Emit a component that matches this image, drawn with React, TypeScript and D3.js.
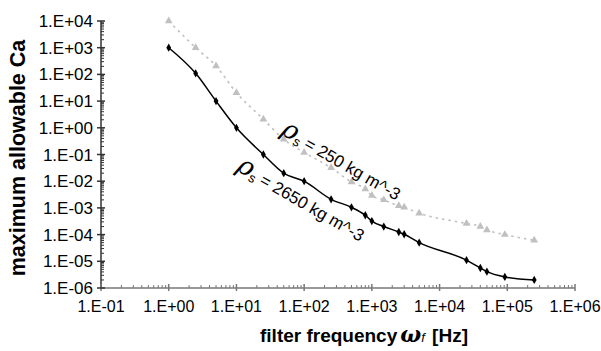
import React, { useRef, useEffect } from 'react';
import * as d3 from 'd3';

// filter frequency [Hz], shared by both series
const freqs = [1, 2.5, 5, 10, 25, 50, 100, 250, 500, 800, 1000, 1500, 2500, 3000, 5000, 25000, 40000, 50000, 92000, 250000];

// rho_s = 2650 kg m^-3
const caHeavy = [1e3, 110, 10, 1, 0.1, 0.02, 0.01, 0.0021, 0.00105, 5.3e-4, 3.2e-4, 2.0e-4, 1.25e-4, 1.03e-4, 5e-5, 1.1e-5, 5.6e-6, 4.1e-6, 2.6e-6, 2.0e-6];

// rho_s = 250 kg m^-3
const caLight = [1e4, 1000, 207, 20.6, 2.1, 0.37, 0.119, 0.032, 0.0093, 0.0051, 0.0029, 0.002, 0.0012, 0.00105, 6.3e-4, 2.6e-4, 2.0e-4, 1.5e-4, 1.0e-4, 6.1e-5];

const xTicks = [1e-1, 1e0, 1e1, 1e2, 1e3, 1e4, 1e5, 1e6];
const yTicks = [1e-6, 1e-5, 1e-4, 1e-3, 1e-2, 1e-1, 1e0, 1e1, 1e2, 1e3, 1e4];

const labels = [
  { density: '250', x: 44, y: 0.6 },
  { density: '2650', x: 9.7, y: 0.026 },
];

const fmtExp = (v: number) => {
  const e = Math.round(Math.log10(v));
  const s = Math.abs(e) < 10 ? '0' + Math.abs(e) : '' + Math.abs(e);
  return '1.E' + (e < 0 ? '-' : '+') + s;
};

const FONT = 'Liberation Sans, Arial, sans-serif';

export default function App() {
  const svgRef = useRef<SVGSVGElement | null>(null);

  useEffect(() => {
    if (!svgRef.current) return;
    const svg = d3.select(svgRef.current);
    svg.selectAll('*').remove();

    const x = d3.scaleLog().domain([1e-1, 1e6]).range([101, 575]);
    const y = d3.scaleLog().domain([1e-6, 1e4]).range([288, 21]);
    const axisColor = '#777';

    // minor ticks
    const g = svg.append('g');
    for (let e = -1; e < 6; e++) {
      for (let m = 2; m < 10; m++) {
        const xv = x(m * Math.pow(10, e));
        g.append('line').attr('x1', xv).attr('x2', xv).attr('y1', 288).attr('y2', 285)
          .attr('stroke', axisColor).attr('stroke-width', 1);
      }
    }
    for (let e = -6; e < 4; e++) {
      for (let m = 2; m < 10; m++) {
        const yv = y(m * Math.pow(10, e));
        g.append('line').attr('x1', 101).attr('x2', 104).attr('y1', yv).attr('y2', yv)
          .attr('stroke', '#333').attr('stroke-width', 1);
      }
    }

    // axes lines
    g.append('line').attr('x1', 101).attr('x2', 575).attr('y1', 288).attr('y2', 288)
      .attr('stroke', axisColor).attr('stroke-width', 1.5);
    g.append('line').attr('x1', 101).attr('x2', 101).attr('y1', 21).attr('y2', 288)
      .attr('stroke', '#333').attr('stroke-width', 1.5);

    // major ticks + labels
    xTicks.forEach(t => {
      g.append('line').attr('x1', x(t)).attr('x2', x(t)).attr('y1', 284).attr('y2', 291)
        .attr('stroke', axisColor).attr('stroke-width', 1.5);
      g.append('text').attr('x', x(t)).attr('y', 312).attr('text-anchor', 'middle')
        .attr('font-family', FONT).attr('font-size', 16).attr('fill', '#000').text(fmtExp(t));
    });
    yTicks.forEach(t => {
      g.append('line').attr('x1', 97).attr('x2', 105).attr('y1', y(t)).attr('y2', y(t))
        .attr('stroke', '#333').attr('stroke-width', 1.5);
      g.append('text').attr('x', 93).attr('y', y(t) + 6).attr('text-anchor', 'end')
        .attr('font-family', FONT).attr('font-size', 17).attr('fill', '#000').text(fmtExp(t));
    });

    // axis titles
    svg.append('text')
      .attr('transform', 'translate(25,158) rotate(-90)')
      .attr('text-anchor', 'middle')
      .attr('font-family', FONT).attr('font-size', 21.5).attr('font-weight', 'bold')
      .text('maximum allowable Ca');

    const xt = svg.append('text').attr('x', 260).attr('y', 342)
      .attr('font-family', FONT).attr('font-size', 19).attr('font-weight', 'bold');
    xt.append('tspan').text('filter frequency');
    xt.append('tspan').attr('dx', 3).attr('font-family', 'DejaVu Serif, serif').attr('font-style', 'italic').attr('font-size', 22).text('ω');
    xt.append('tspan').attr('font-style', 'italic').attr('font-size', 13).attr('font-weight', 'normal').text('f');
    xt.append('tspan').attr('dx', 2).text(' [Hz]');

    const pts = (vals: number[]) => freqs.map((f, i) => [x(f), y(vals[i])] as [number, number]);
    const line = d3.line().curve(d3.curveMonotoneX);

    // light series
    svg.append('path').attr('d', line(pts(caLight)))
      .attr('fill', 'none').attr('stroke', '#c0c0c0').attr('stroke-width', 1.6)
      .attr('stroke-dasharray', '2.5,4');
    const tri = d3.symbol().type(d3.symbolTriangle).size(26);
    svg.append('g').selectAll('path').data(pts(caLight)).join('path')
      .attr('transform', d => `translate(${d[0]},${d[1]})`)
      .attr('d', tri()).attr('fill', '#c0c0c0');

    // heavy series
    svg.append('path').attr('d', line(pts(caHeavy)))
      .attr('fill', 'none').attr('stroke', '#000').attr('stroke-width', 1.5);
    const dia = d3.symbol().type(d3.symbolDiamond).size(20);
    svg.append('g').selectAll('path').data(pts(caHeavy)).join('path')
      .attr('transform', d => `translate(${d[0]},${d[1]})`)
      .attr('d', dia()).attr('fill', '#000');

    // series labels
    labels.forEach(l => {
      const t = svg.append('text')
        .attr('transform', `translate(${x(l.x)},${y(l.y)}) rotate(30)`)
        .attr('font-family', FONT).attr('font-size', 17).attr('fill', '#000');
      t.append('tspan').attr('font-family', 'DejaVu Serif, serif').attr('font-style', 'italic').attr('font-size', 26).text('ρ');
      t.append('tspan').attr('font-size', 13).attr('dy', 3).text('s');
      t.append('tspan').attr('dy', -3).text(` = ${l.density} kg m^-3`);
    });
  }, []);

  return (
    <div style={{ position: 'fixed', left: 0, top: 0, background: '#fff' }}>
      <svg ref={svgRef} width={601} height={351} style={{ display: 'block' }} />
    </div>
  );
}
